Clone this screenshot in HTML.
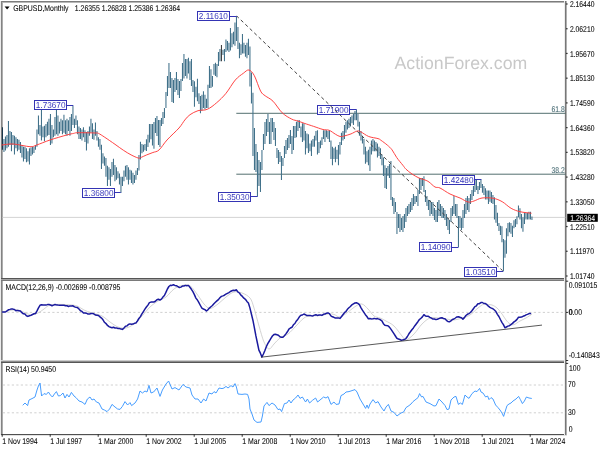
<!DOCTYPE html>
<html><head><meta charset="utf-8"><title>GBPUSD Monthly</title>
<style>html,body{margin:0;padding:0;background:#fff;width:600px;height:450px;overflow:hidden}
svg{display:block} text{font-family:'Liberation Sans', Arial, sans-serif;text-rendering:geometricPrecision}</style></head>
<body><svg width="600" height="450" viewBox="0 0 600 450">
<rect x="0" y="0" width="600" height="450" fill="#fff"/>
<rect x="1" y="1" width="565" height="1" fill="#7c7c7c"/>
<rect x="2" y="2" width="563" height="1" fill="#b8b8b8"/>
<rect x="0" y="1" width="1" height="434" fill="#ececec"/>
<rect x="1" y="1" width="1" height="434" fill="#838383"/>
<rect x="2" y="2" width="1" height="432" fill="#adadad"/>
<rect x="1" y="278" width="565" height="1" fill="#555555"/>
<rect x="1" y="279" width="565" height="1" fill="#a3a3a3"/>
<rect x="1" y="280" width="565" height="1" fill="#7a7a7a"/>
<rect x="1" y="360" width="565" height="1" fill="#cdcdcd"/>
<rect x="1" y="361" width="565" height="1" fill="#8c8c8c"/>
<rect x="1" y="362" width="565" height="1" fill="#565656"/>
<rect x="1" y="434" width="566" height="1" fill="#505050"/>
<rect x="1" y="435" width="566" height="1" fill="#e2e2e2"/>
<rect x="564" y="1" width="1" height="434" fill="#ededed"/>
<rect x="565" y="1" width="1" height="434" fill="#777777"/>
<rect x="566" y="1" width="1" height="434" fill="#b0b0b0"/>
<line x1="2.3" y1="217.4" x2="565.5" y2="217.4" stroke="#c8c8c8" stroke-width="0.8"/>
<line x1="236.3" y1="113.3" x2="565.5" y2="113.3" stroke="#3f5f5f" stroke-width="0.9"/>
<line x1="236.3" y1="174.2" x2="565.5" y2="174.2" stroke="#3f5f5f" stroke-width="0.9"/>
<text transform="translate(564.70,111.60) scale(0.81,1)" font-size="8.4" fill="#466a72" stroke="#466a72" stroke-width="0.07" text-anchor="end" >61.8</text>
<text transform="translate(564.70,172.50) scale(0.81,1)" font-size="8.4" fill="#466a72" stroke="#466a72" stroke-width="0.07" text-anchor="end" >38.2</text>
<path d="M3.95 138.9V152.0M5.45 136.5V150.5M6.95 135.0V148.2M8.45 121.0V146.7M9.95 131.0V145.0M11.45 131.9V151.3M12.95 135.0V145.0M14.45 135.8V154.4M15.95 137.3V148.2M17.45 138.9V151.3M18.95 139.7V149.8M20.45 142.0V152.9M21.95 145.0V157.5M23.45 146.7V161.4M24.95 146.7V159.0M26.45 148.2V162.2M27.95 151.3V161.4M29.45 148.2V164.5M30.95 147.4V156.0M32.45 146.7V154.4M33.95 146.7V152.9M35.45 145.0V149.8M36.95 129.5V146.7M38.45 115.6V134.2M39.95 124.9V135.8M41.45 110.1V140.4M42.95 126.4V137.3M44.45 125.7V141.2M45.95 124.1V137.3M47.45 121.8V135.8M48.95 118.7V135.0M50.45 114.0V145.0M51.95 124.9V143.5M53.45 129.5V137.3M54.95 117.0V135.8M56.45 109.3V134.2M57.95 115.6V135.8M59.45 121.8V133.4M60.95 118.7V131.0M62.45 120.2V134.2M63.95 114.8V132.7M65.45 120.2V134.2M66.95 118.7V135.8M68.45 120.2V131.0M69.95 117.1V135.8M71.45 114.0V131.0M72.95 105.4V124.9M74.45 118.7V128.0M75.95 115.6V124.9M77.45 120.2V134.2M78.95 126.4V138.9M80.45 128.0V138.9M81.95 129.5V140.4M83.45 127.2V137.3M84.95 130.3V142.0M86.45 131.9V150.5M87.95 131.0V143.5M89.45 126.4V135.8M90.95 118.7V132.7M92.45 123.3V138.9M93.95 129.5V139.7M95.45 122.6V135.8M96.95 131.0V140.4M98.45 137.3V146.7M99.95 138.9V149.8M101.45 144.8V168.9M102.95 153.3V163.4M104.45 156.4V165.8M105.95 158.0V176.7M107.45 165.8V186.0M108.95 167.3V179.8M110.45 168.9V186.0M111.95 161.9V176.7M113.45 158.8V175.1M114.95 165.0V181.3M116.45 167.3V179.8M117.95 171.2V178.2M119.45 173.5V184.4M120.95 176.7V193.0M122.45 176.7V186.0M123.95 170.4V181.3M125.45 165.8V176.7M126.95 165.0V179.8M128.45 167.3V184.4M129.95 169.7V179.8M131.45 170.4V182.9M132.95 172.8V184.4M134.45 175.1V182.9M135.95 170.4V179.8M137.45 168.1V175.1M138.95 154.9V170.4M140.45 141.7V159.5M141.95 144.0V153.3M143.45 144.8V151.8M144.95 144.0V150.2M146.45 139.3V151.0M147.95 134.7V147.1M149.45 124.0V142.4M150.95 124.0V139.3M152.45 124.0V145.6M153.95 122.0V148.7M155.45 118.0V133.0M156.95 116.0V136.0M158.45 120.0V145.0M159.95 120.0V147.0M161.45 118.0V126.0M162.95 112.0V124.0M164.45 108.0V118.0M165.95 92.0V108.0M167.45 76.0V96.0M168.95 63.0V88.0M170.45 72.0V88.0M171.95 78.0V102.0M173.45 80.0V103.0M174.95 78.0V92.0M176.45 72.0V90.0M177.95 79.0V95.0M179.45 81.0V98.0M180.95 79.0V91.0M182.45 63.0V81.0M183.95 54.0V78.5M185.45 59.0V76.0M186.95 59.0V78.5M188.45 57.7V73.6M189.95 61.3V80.0M191.45 59.0V86.0M192.95 80.0V92.0M194.45 81.3V106.7M195.95 86.7V97.3M197.45 78.7V101.3M198.95 93.3V104.0M200.45 96.0V113.3M201.95 94.7V110.7M203.45 91.3V108.0M204.95 94.7V109.3M206.45 98.7V108.0M207.95 84.7V108.0M209.45 66.0V88.0M210.95 69.3V88.0M212.45 76.0V86.7M213.95 64.0V74.7M215.45 62.7V76.0M216.95 64.0V77.3M218.45 52.0V66.0M219.95 48.9V61.3M222.95 49.7V55.1M224.45 48.9V61.3M225.95 39.5V52.0M227.45 41.1V50.4M228.95 42.7V52.0M230.45 27.9V50.4M231.95 33.3V47.3M233.45 31.8V44.2M234.95 22.4V45.8M236.45 16.2V41.1M237.95 27.1V48.9M239.45 42.7V58.2M240.95 44.2V55.1M242.45 34.1V53.5M243.95 42.7V53.5M245.45 45.0V56.7M246.95 42.7V58.2M248.45 38.8V55.1M249.95 46.5V86.4M251.45 72.4V103.5M252.95 92.7V156.0M254.45 128.0V170.0M255.95 144.0V172.0M257.45 152.0V196.5M258.95 160.0V186.0M260.45 162.0V192.0M261.95 150.0V170.0M263.45 134.0V150.0M264.95 122.0V144.0M266.45 119.0V136.0M267.95 114.0V132.0M269.45 122.0V144.0M270.95 118.0V144.0M272.45 118.0V132.0M273.95 122.0V140.0M275.45 128.0V146.0M276.95 148.0V158.0M278.45 150.0V164.0M279.95 152.0V162.0M281.45 156.0V180.0M282.95 158.0V166.0M284.45 146.0V158.0M285.95 140.0V154.0M287.45 138.0V150.0M288.95 135.0V148.0M290.45 130.0V144.0M291.95 136.0V154.0M293.45 126.0V150.0M294.95 126.0V138.0M296.45 121.8V137.3M297.95 120.2V131.1M299.45 120.2V128.0M300.95 126.4V137.3M302.45 123.3V142.0M303.95 123.3V140.4M305.45 131.1V154.4M306.95 133.4V148.2M308.45 134.2V152.9M309.95 143.5V151.3M311.45 140.4V156.0M312.95 138.9V146.7M314.45 135.8V146.7M315.95 131.1V140.4M317.45 130.3V154.4M318.95 142.0V152.9M320.45 140.4V148.2M321.95 137.3V145.0M323.45 130.3V138.9M324.95 130.3V142.0M326.45 130.3V137.3M327.95 131.1V138.9M329.45 130.3V142.0M330.95 140.4V159.1M332.45 146.7V165.3M333.95 148.2V159.1M335.45 146.7V162.2M336.95 149.8V159.1M338.45 145.1V165.3M339.95 142.0V154.4M341.45 132.7V145.0M342.95 131.1V140.4M344.45 124.9V138.9M345.95 121.8V132.7M347.45 120.2V129.5M348.95 118.7V128.0M350.45 117.1V126.4M351.95 115.6V123.3M353.45 114.0V124.9M354.95 110.9V120.2M356.45 109.6V120.2M357.95 114.0V126.4M359.45 121.8V135.8M360.95 131.1V140.4M362.45 135.8V143.5M363.95 138.9V154.4M365.45 146.7V163.8M366.95 151.3V162.2M368.45 149.8V165.3M369.95 146.7V171.0M371.45 140.4V154.4M372.95 138.9V151.3M374.45 140.4V151.3M375.95 142.0V151.3M377.45 143.5V157.5M378.95 146.7V156.0M380.45 148.2V159.1M381.95 154.4V165.3M383.45 157.5V176.0M384.95 165.3V188.0M386.45 168.0V189.0M387.95 166.0V176.0M389.45 164.0V178.0M390.95 161.0V200.0M392.45 197.0V206.0M393.95 198.0V214.0M395.45 202.0V212.0M396.95 212.0V234.0M398.45 214.0V228.0M399.95 214.0V232.0M401.45 218.0V230.0M402.95 216.0V232.0M404.45 214.0V228.0M405.95 208.0V222.0M407.45 206.0V216.0M408.95 204.0V214.0M410.45 202.0V212.0M411.95 198.0V210.0M413.45 194.0V206.0M414.95 196.0V204.0M416.45 196.0V202.0M417.95 190.0V206.0M419.45 178.0V194.0M420.95 178.0V190.0M422.45 178.0V186.0M423.95 176.3V192.0M425.45 190.0V202.0M426.95 196.0V206.0M428.45 200.0V210.0M429.95 200.0V216.0M431.45 202.0V214.0M432.95 202.0V216.0M434.45 208.0V220.0M435.95 210.0V222.0M437.45 202.0V222.0M438.95 200.0V216.0M440.45 204.0V216.0M441.95 206.0V218.0M443.45 208.0V218.0M444.95 210.0V220.0M446.45 214.0V226.0M447.95 218.0V230.0M449.45 220.0V234.0M450.95 208.0V222.0M452.45 206.0V216.0M453.95 196.0V214.0M455.45 204.0V216.0M456.95 204.0V218.0M458.45 216.0V247.3M459.95 216.0V228.0M461.45 218.0V230.0M462.95 210.0V228.0M464.45 204.0V218.0M465.95 198.0V214.0M467.45 196.0V210.0M468.95 198.0V212.0M470.45 194.0V204.0M471.95 190.0V200.0M473.45 186.0V196.0M474.95 180.0V192.0M476.45 180.0V190.0M477.95 186.0V194.0M479.45 182.0V190.0M480.95 179.3V188.0M482.45 183.9V192.8M483.95 186.1V195.0M485.45 188.3V199.4M486.95 190.6V199.4M488.45 190.6V203.9M489.95 190.6V201.7M491.45 192.0V203.0M492.95 195.0V203.9M494.45 197.2V219.4M495.95 205.0V222.8M497.45 212.8V226.1M498.95 223.0V231.0M500.45 225.7V235.0M501.95 226.3V242.3M503.45 239.0V271.3M504.95 240.3V257.7M506.45 228.3V253.7M507.95 223.0V236.3M509.45 222.3V232.3M510.95 223.0V233.7M512.45 225.7V237.0M513.95 220.3V228.3M515.45 219.0V227.0M516.95 216.3V224.3M518.45 205.4V217.2M519.95 208.3V219.4M521.45 213.9V228.3M522.95 217.2V231.7M524.45 212.8V223.9M525.95 212.8V219.4M527.45 212.8V219.4M528.95 211.7V219.4M530.45 211.7V219.4M531.95 216.5V219.9" stroke="#41718a" stroke-width="1.05" fill="none"/>
<path d="M2.45 127.2V149.8" stroke="#17364c" stroke-width="1.05" fill="none"/>
<path d="M221.45 45.0V61.3" stroke="#3c3c3c" stroke-width="1.05" fill="none"/>
<path d="M2.00 145.00C3.90 144.83 8.73 143.72 13.40 144.00C18.07 144.28 26.12 146.53 30.00 146.70C33.88 146.87 33.37 146.12 36.70 145.00C40.03 143.88 45.00 141.67 50.00 140.00C55.00 138.33 62.75 136.10 66.70 135.00C70.65 133.90 71.82 133.78 73.70 133.40C75.58 133.02 74.38 132.77 78.00 132.70C81.62 132.63 91.98 132.88 95.40 133.00C98.82 133.12 96.93 132.68 98.50 133.40C100.07 134.12 102.05 135.48 104.80 137.30C107.55 139.12 111.92 142.15 115.00 144.30C118.08 146.45 120.62 148.43 123.30 150.20C125.98 151.97 128.63 153.60 131.10 154.90C133.57 156.20 136.55 157.53 138.10 158.00C139.65 158.47 138.97 158.22 140.40 157.70C141.83 157.18 144.62 155.77 146.70 154.90C148.78 154.03 150.85 153.32 152.90 152.50C154.95 151.68 156.65 152.08 159.00 150.00C161.35 147.92 163.67 143.67 167.00 140.00C170.33 136.33 176.03 131.33 179.00 128.00C181.97 124.67 182.97 122.22 184.80 120.00C186.63 117.78 187.80 116.25 190.00 114.70C192.20 113.15 195.12 111.60 198.00 110.70C200.88 109.80 204.18 110.63 207.30 109.30C210.42 107.97 213.58 105.37 216.70 102.70C219.82 100.03 222.90 97.08 226.00 93.30C229.10 89.52 232.42 83.33 235.30 80.00C238.18 76.67 241.03 74.97 243.30 73.30C245.57 71.63 247.07 69.62 248.90 70.00C250.73 70.38 252.35 72.08 254.30 75.60C256.25 79.12 258.78 87.73 260.60 91.10C262.42 94.47 263.13 94.12 265.20 95.80C267.27 97.48 270.15 98.35 273.00 101.20C275.85 104.05 279.18 109.92 282.30 112.90C285.42 115.88 289.10 117.75 291.70 119.10C294.30 120.45 295.80 120.30 297.90 121.00C300.00 121.70 301.67 122.40 304.30 123.30C306.93 124.20 310.58 125.37 313.70 126.40C316.82 127.43 320.42 128.85 323.00 129.50C325.58 130.15 327.13 129.52 329.20 130.30C331.27 131.08 333.58 133.17 335.40 134.20C337.22 135.23 338.53 136.23 340.10 136.50C341.67 136.77 342.98 136.23 344.80 135.80C346.62 135.37 348.97 134.68 351.00 133.90C353.03 133.12 355.35 131.43 357.00 131.10C358.65 130.77 358.95 131.00 360.90 131.90C362.85 132.80 365.85 135.38 368.70 136.50C371.55 137.62 375.93 137.95 378.00 138.60C380.07 139.25 379.55 139.32 381.10 140.40C382.65 141.48 385.48 143.53 387.30 145.10C389.12 146.67 390.43 147.73 392.00 149.80C393.57 151.87 394.88 154.92 396.70 157.50C398.52 160.08 401.35 163.35 402.90 165.30C404.45 167.25 404.48 167.75 406.00 169.20C407.52 170.65 409.83 172.53 412.00 174.00C414.17 175.47 416.83 177.00 419.00 178.00C421.17 179.00 423.33 179.33 425.00 180.00C426.67 180.67 427.33 180.83 429.00 182.00C430.67 183.17 433.17 186.00 435.00 187.00C436.83 188.00 437.50 186.83 440.00 188.00C442.50 189.17 446.67 192.33 450.00 194.00C453.33 195.67 457.00 196.67 460.00 198.00C463.00 199.33 465.67 201.50 468.00 202.00C470.33 202.50 471.67 201.67 474.00 201.00C476.33 200.33 478.78 198.45 482.00 198.00C485.22 197.55 489.93 197.68 493.30 198.30C496.67 198.92 499.23 200.03 502.20 201.70C505.17 203.37 508.13 206.63 511.10 208.30C514.07 209.97 516.67 210.88 520.00 211.70C523.33 212.52 529.25 212.95 531.10 213.20" fill="none" stroke="#ff3a3a" stroke-width="0.95" stroke-linejoin="round" stroke-linecap="round"/>
<line x1="66" y1="105.5" x2="73.20" y2="105.5" stroke="#3434b4" stroke-width="1"/>
<rect x="34.5" y="100.5" width="32" height="9" fill="#fff" stroke="#3434b4" stroke-width="1"/>
<text transform="translate(35.80,108.20) scale(0.955,1)" font-size="8.6" fill="#3838bc" text-anchor="start" >1.73670</text>
<line x1="114" y1="192.5" x2="120.75" y2="192.5" stroke="#3434b4" stroke-width="1"/>
<rect x="82.5" y="188.5" width="32" height="9" fill="#fff" stroke="#3434b4" stroke-width="1"/>
<text transform="translate(83.80,196.20) scale(0.955,1)" font-size="8.6" fill="#3838bc" text-anchor="start" >1.36800</text>
<line x1="229" y1="16.5" x2="236.80" y2="16.5" stroke="#3434b4" stroke-width="1"/>
<rect x="197.5" y="11.5" width="32" height="9" fill="#fff" stroke="#3434b4" stroke-width="1"/>
<text transform="translate(198.80,19.20) scale(0.955,1)" font-size="8.6" fill="#3838bc" text-anchor="start" >2.11610</text>
<line x1="250" y1="196.5" x2="257.60" y2="196.5" stroke="#3434b4" stroke-width="1"/>
<rect x="218.5" y="192.5" width="32" height="9" fill="#fff" stroke="#3434b4" stroke-width="1"/>
<text transform="translate(219.80,200.20) scale(0.955,1)" font-size="8.6" fill="#3838bc" text-anchor="start" >1.35030</text>
<line x1="349" y1="109.5" x2="356.60" y2="109.5" stroke="#3434b4" stroke-width="1"/>
<rect x="317.5" y="105.5" width="32" height="9" fill="#fff" stroke="#3434b4" stroke-width="1"/>
<text transform="translate(318.80,113.20) scale(0.955,1)" font-size="8.6" fill="#3838bc" text-anchor="start" >1.71900</text>
<line x1="474" y1="179.5" x2="481.30" y2="179.5" stroke="#3434b4" stroke-width="1"/>
<rect x="442.5" y="175.5" width="32" height="9" fill="#fff" stroke="#3434b4" stroke-width="1"/>
<text transform="translate(443.80,183.20) scale(0.955,1)" font-size="8.6" fill="#3838bc" text-anchor="start" >1.42480</text>
<line x1="451" y1="247.5" x2="458.40" y2="247.5" stroke="#3434b4" stroke-width="1"/>
<rect x="419.5" y="242.5" width="32" height="9" fill="#fff" stroke="#3434b4" stroke-width="1"/>
<text transform="translate(420.80,250.20) scale(0.955,1)" font-size="8.6" fill="#3838bc" text-anchor="start" >1.14090</text>
<line x1="496" y1="271.5" x2="503.20" y2="271.5" stroke="#3434b4" stroke-width="1"/>
<rect x="464.5" y="267.5" width="32" height="9" fill="#fff" stroke="#3434b4" stroke-width="1"/>
<text transform="translate(465.80,275.20) scale(0.955,1)" font-size="8.6" fill="#3838bc" text-anchor="start" >1.03510</text>
<line x1="236.8" y1="16.1" x2="502.6" y2="270.7" stroke="#404040" stroke-width="1.0" stroke-dasharray="3.4 2.8" stroke-dashoffset="0.64"/>
<line x1="2.3" y1="312.4" x2="565.5" y2="312.4" stroke="#c0c0c0" stroke-width="0.75" stroke-dasharray="2.2 2.3" stroke-dashoffset="-0.5"/>
<path d="M2.00 312.00C3.33 311.75 7.67 310.90 10.00 310.50C12.33 310.10 14.00 309.45 16.00 309.60C18.00 309.75 20.00 310.67 22.00 311.40C24.00 312.13 26.33 313.47 28.00 314.00C29.67 314.53 30.33 314.77 32.00 314.60C33.67 314.43 36.00 313.93 38.00 313.00C40.00 312.07 42.00 310.33 44.00 309.00C46.00 307.67 47.33 305.77 50.00 305.00C52.67 304.23 56.33 304.40 60.00 304.40C63.67 304.40 69.00 304.67 72.00 305.00C75.00 305.33 76.00 305.57 78.00 306.40C80.00 307.23 81.67 308.90 84.00 310.00C86.33 311.10 89.00 312.00 92.00 313.00C95.00 314.00 99.00 314.50 102.00 316.00C105.00 317.50 107.33 320.17 110.00 322.00C112.67 323.83 115.33 326.00 118.00 327.00C120.67 328.00 123.33 328.50 126.00 328.00C128.67 327.50 131.33 326.00 134.00 324.00C136.67 322.00 139.33 318.83 142.00 316.00C144.67 313.17 147.33 309.50 150.00 307.00C152.67 304.50 155.33 302.67 158.00 301.00C160.67 299.33 163.33 299.00 166.00 297.00C168.67 295.00 171.33 290.92 174.00 289.00C176.67 287.08 179.33 286.03 182.00 285.50C184.67 284.97 187.33 284.13 190.00 285.80C192.67 287.47 195.67 292.47 198.00 295.50C200.33 298.53 202.00 301.83 204.00 304.00C206.00 306.17 207.67 308.50 210.00 308.50C212.33 308.50 215.33 305.92 218.00 304.00C220.67 302.08 223.33 299.00 226.00 297.00C228.67 295.00 231.33 292.67 234.00 292.00C236.67 291.33 239.33 292.00 242.00 293.00C244.67 294.00 248.00 295.50 250.00 298.00C252.00 300.50 252.50 303.33 254.00 308.00C255.50 312.67 257.33 320.33 259.00 326.00C260.67 331.67 262.33 338.17 264.00 342.00C265.67 345.83 267.33 348.67 269.00 349.00C270.67 349.33 272.17 345.83 274.00 344.00C275.83 342.17 277.67 339.67 280.00 338.00C282.33 336.33 285.33 336.00 288.00 334.00C290.67 332.00 293.33 328.67 296.00 326.00C298.67 323.33 301.67 319.67 304.00 318.00C306.33 316.33 307.33 316.40 310.00 316.00C312.67 315.60 317.00 315.93 320.00 315.60C323.00 315.27 325.67 314.20 328.00 314.00C330.33 313.80 332.00 313.90 334.00 314.40C336.00 314.90 337.67 317.40 340.00 317.00C342.33 316.60 345.33 313.83 348.00 312.00C350.67 310.17 353.67 307.33 356.00 306.00C358.33 304.67 360.00 303.50 362.00 304.00C364.00 304.50 366.00 307.00 368.00 309.00C370.00 311.00 372.00 314.50 374.00 316.00C376.00 317.50 378.00 317.17 380.00 318.00C382.00 318.83 383.67 319.67 386.00 321.00C388.33 322.33 391.33 323.50 394.00 326.00C396.67 328.50 400.00 333.67 402.00 336.00C404.00 338.33 404.00 340.33 406.00 340.00C408.00 339.67 411.33 336.67 414.00 334.00C416.67 331.33 419.33 326.67 422.00 324.00C424.67 321.33 427.33 319.00 430.00 318.00C432.67 317.00 435.33 317.83 438.00 318.00C440.67 318.17 443.33 318.67 446.00 319.00C448.67 319.33 451.33 320.17 454.00 320.00C456.67 319.83 459.33 318.83 462.00 318.00C464.67 317.17 467.33 316.67 470.00 315.00C472.67 313.33 475.67 309.83 478.00 308.00C480.33 306.17 482.33 304.58 484.00 304.00C485.67 303.42 486.67 304.33 488.00 304.50C489.33 304.67 490.50 304.42 492.00 305.00C493.50 305.58 495.33 306.50 497.00 308.00C498.67 309.50 500.50 312.00 502.00 314.00C503.50 316.00 504.67 318.33 506.00 320.00C507.33 321.67 508.67 323.23 510.00 324.00C511.33 324.77 512.33 325.10 514.00 324.60C515.67 324.10 518.00 322.10 520.00 321.00C522.00 319.90 524.07 319.10 526.00 318.00C527.93 316.90 530.67 315.00 531.60 314.40" fill="none" stroke="#c4c4c4" stroke-width="0.75" stroke-linejoin="round" stroke-linecap="round"/>
<polyline points="2.5,311.9 4.0,311.9 5.5,312.0 7.0,310.9 8.4,309.8 9.9,309.4 11.4,308.9 12.9,309.1 14.4,309.5 15.9,310.8 17.4,310.4 18.9,310.7 20.4,311.0 21.9,312.7 23.4,313.8 24.9,314.1 26.4,315.7 27.9,316.4 29.4,315.8 30.9,315.4 32.5,314.5 34.0,313.8 35.5,313.6 37.0,310.9 38.5,307.9 40.0,305.3 41.5,304.8 43.0,305.1 44.5,304.9 46.0,305.1 47.5,304.6 49.0,304.5 50.5,305.0 52.0,305.7 53.5,305.1 55.0,304.5 56.5,304.9 58.0,305.1 59.5,305.2 61.0,305.3 62.5,305.2 64.0,305.3 65.5,305.7 67.0,305.8 68.5,306.5 70.0,305.9 71.5,306.0 73.0,305.8 74.5,306.9 76.0,307.3 77.5,307.6 79.0,309.0 80.5,310.7 82.0,311.4 83.5,313.0 85.0,313.1 86.5,313.2 88.0,314.1 89.5,314.1 91.0,313.5 92.5,313.4 94.0,314.0 95.5,315.1 97.0,315.3 98.5,315.5 100.0,316.9 101.5,318.1 103.0,319.8 104.5,322.3 106.0,323.6 107.5,325.4 109.0,326.6 110.5,327.3 112.0,327.8 113.5,327.3 115.0,328.0 116.5,327.9 118.0,328.5 119.5,328.6 121.0,329.0 122.5,329.4 124.0,328.0 125.5,326.3 127.0,325.9 128.4,324.5 129.9,323.9 131.4,324.3 132.9,324.1 134.4,323.3 135.9,323.1 137.4,321.0 138.9,318.5 140.4,316.6 141.9,313.9 143.4,311.6 144.9,309.2 146.4,307.0 147.9,305.1 149.4,302.6 150.9,302.1 152.4,301.9 153.9,302.0 155.4,301.3 156.9,299.8 158.4,299.2 159.9,300.0 161.4,299.1 162.9,297.1 164.4,295.5 165.9,292.4 167.4,289.0 168.9,286.5 170.4,285.2 171.9,285.4 173.4,284.7 174.9,285.4 176.4,285.7 177.9,286.6 179.4,287.5 180.9,287.1 182.4,286.1 183.9,286.0 185.4,285.4 186.9,285.8 188.4,285.4 189.9,287.3 191.4,289.3 192.9,291.7 194.4,294.6 195.9,298.1 197.4,300.0 198.9,302.7 200.4,305.5 201.9,308.2 203.4,309.0 204.9,309.6 206.4,311.0 207.9,309.8 209.4,308.1 210.9,306.8 212.4,305.5 213.9,303.7 215.4,302.3 216.9,300.9 218.4,299.6 219.9,297.7 221.4,296.4 222.9,295.9 224.4,295.2 225.9,294.2 227.4,293.4 228.9,292.6 230.4,291.5 231.9,290.8 233.4,290.2 234.9,290.5 236.4,289.8 237.9,292.0 239.4,293.0 240.9,295.1 242.4,296.4 243.9,298.2 245.4,299.3 246.9,301.4 248.4,303.0 249.9,307.9 251.4,314.0 252.9,320.2 254.4,327.9 255.9,335.9 257.4,343.0 258.9,350.1 260.4,353.2 261.9,357.0 263.4,354.0 264.9,350.5 266.4,346.5 267.9,343.4 269.4,341.0 270.9,338.3 272.4,336.0 273.9,334.6 275.4,334.3 276.9,334.7 278.4,335.2 279.9,336.7 281.4,337.2 282.9,337.3 284.4,335.8 285.9,333.9 287.4,331.8 288.9,329.2 290.4,328.0 291.9,327.3 293.4,324.8 294.9,323.5 296.4,320.9 297.9,319.2 299.4,316.8 300.9,315.3 302.4,315.0 303.9,314.0 305.4,314.7 306.9,315.6 308.4,315.4 309.9,315.4 311.4,315.8 312.9,315.9 314.4,315.1 315.9,314.7 317.4,315.4 318.9,315.1 320.4,314.9 321.9,315.4 323.4,314.3 324.9,314.1 326.4,313.2 327.9,312.9 329.4,313.6 330.9,315.9 332.4,316.8 333.9,317.3 335.4,318.1 336.9,318.0 338.4,317.9 339.9,318.4 341.4,316.7 342.9,314.7 344.4,312.7 345.9,311.5 347.4,309.3 348.9,307.8 350.4,306.5 351.9,304.8 353.4,303.8 354.9,303.0 356.4,302.8 357.9,303.4 359.4,304.6 360.9,307.6 362.4,310.2 363.9,312.4 365.4,314.7 366.9,316.5 368.4,318.8 369.9,318.5 371.4,318.9 372.9,318.7 374.4,318.4 375.9,318.9 377.4,318.6 378.9,319.1 380.4,319.8 381.9,320.9 383.4,323.7 384.9,325.3 386.4,325.6 387.9,325.8 389.4,327.1 390.9,329.1 392.4,331.3 393.9,333.6 395.4,336.0 396.9,338.3 398.4,339.0 399.9,339.5 401.4,340.3 402.9,339.9 404.4,339.6 405.9,338.5 407.4,336.5 408.9,333.8 410.4,331.8 411.9,329.7 413.4,327.9 414.9,325.7 416.4,323.7 417.9,321.7 419.4,319.5 420.9,318.3 422.4,316.9 423.9,314.7 425.4,315.9 426.9,316.2 428.4,316.3 429.9,317.3 431.4,318.2 432.9,319.1 434.4,319.0 435.9,319.6 437.4,319.3 438.9,318.6 440.4,318.0 441.9,317.7 443.4,318.5 444.9,318.7 446.4,320.3 447.9,321.5 449.4,321.8 450.9,320.9 452.4,319.5 453.9,319.0 455.4,318.0 456.9,316.9 458.4,316.7 459.9,317.3 461.4,317.7 462.9,319.1 464.4,317.6 465.9,315.5 467.4,314.3 468.9,313.6 470.4,312.5 471.9,310.8 473.4,308.7 474.9,306.6 476.4,305.8 477.9,303.7 479.4,303.7 480.9,302.6 482.4,302.5 483.9,303.5 485.4,303.6 486.9,304.7 488.4,306.2 489.9,307.3 491.4,308.1 492.9,308.7 494.4,310.0 495.9,311.6 497.4,314.3 498.9,316.5 500.4,319.5 501.9,322.3 503.4,324.6 504.9,327.7 506.4,327.0 507.9,326.1 509.4,325.7 510.9,324.6 512.5,323.4 514.0,321.9 515.5,320.9 517.0,319.4 518.5,317.3 520.0,317.2 521.5,317.1 523.0,316.3 524.5,315.8 526.0,314.9 527.5,314.4 529.0,313.6 530.5,313.4" fill="none" stroke="#1a1a9e" stroke-width="1.5" stroke-linejoin="round" stroke-linecap="round" />
<line x1="261" y1="357.2" x2="542" y2="325.1" stroke="#222" stroke-width="0.75"/>
<line x1="2.3" y1="385" x2="565.5" y2="385" stroke="#c0c0c0" stroke-width="0.75" stroke-dasharray="2.2 2.3" stroke-dashoffset="-0.5"/>
<line x1="2.3" y1="412.8" x2="565.5" y2="412.8" stroke="#c0c0c0" stroke-width="0.75" stroke-dasharray="2.2 2.3" stroke-dashoffset="-0.5"/>
<polyline points="23.0,405.0 25.0,403.0 27.6,405.6 29.0,400.0 32.0,398.6 35.0,397.0 37.0,390.0 38.4,386.0 40.0,383.0 41.6,396.0 44.0,393.6 46.4,394.4 48.4,392.0 50.4,395.0 52.4,397.0 54.4,394.0 56.4,391.6 58.4,396.0 60.4,395.6 63.0,393.0 65.0,398.0 67.0,394.4 69.0,397.0 71.4,392.4 74.0,396.0 76.0,397.6 79.0,401.0 82.0,402.0 85.0,404.4 87.4,399.0 90.0,397.0 92.0,400.0 94.0,399.0 96.4,402.0 99.0,403.0 102.0,409.0 104.4,410.0 107.0,411.6 109.6,409.0 112.0,404.4 115.0,407.0 117.6,409.0 120.0,409.4 122.4,406.4 125.0,401.6 127.6,405.0 130.0,402.6 131.6,405.6 135.0,403.0 137.6,399.0 140.0,391.0 142.4,393.0 145.0,391.0 147.0,392.0 149.0,385.4 151.0,393.0 153.6,392.0 157.0,388.0 160.0,396.4 162.4,390.0 166.0,384.0 168.6,381.0 172.0,389.0 175.0,387.6 179.0,390.0 183.0,384.4 186.0,387.0 190.0,388.0 192.0,395.0 195.0,399.0 198.0,399.0 201.0,403.0 203.6,399.0 206.0,401.0 209.0,393.0 212.0,394.0 214.0,391.6 216.0,393.0 219.0,388.0 222.0,388.6 224.0,388.0 226.0,386.4 228.0,388.0 231.0,385.6 233.0,387.0 235.0,383.6 236.4,387.0 238.0,394.0 242.0,394.4 245.0,394.0 247.6,394.4 249.0,399.0 250.0,409.0 252.0,414.0 254.0,420.0 257.0,422.4 261.0,422.0 262.4,416.0 264.0,406.0 267.0,402.4 269.0,405.6 272.0,403.0 275.0,405.0 278.0,409.6 280.0,409.0 281.6,411.6 284.4,403.6 287.0,403.0 289.0,400.0 291.0,403.0 293.0,400.0 295.6,398.0 298.0,395.0 300.0,398.4 302.4,397.0 305.6,402.0 307.4,399.0 309.6,403.0 312.4,400.4 315.6,398.0 317.6,402.0 320.0,400.0 323.6,397.0 326.0,398.0 328.0,396.6 331.0,404.4 334.0,402.0 336.0,404.4 339.0,404.0 341.0,395.6 344.0,394.0 346.0,392.0 349.0,391.6 352.0,390.6 355.0,389.6 357.0,392.0 360.0,399.0 363.0,404.0 365.6,408.4 367.0,405.0 368.4,408.4 370.0,404.0 373.0,399.6 375.6,403.0 378.0,401.6 381.0,407.0 384.0,411.0 386.0,407.0 388.4,404.4 391.0,411.0 394.0,412.4 397.0,416.0 399.0,414.4 401.0,413.0 403.6,412.0 406.0,407.6 409.0,405.6 411.0,404.0 413.0,401.6 415.0,400.0 418.0,397.6 419.6,393.6 421.6,397.0 423.0,396.4 426.0,402.0 430.0,403.6 434.0,406.0 436.0,405.6 439.0,399.0 442.0,402.0 445.0,405.5 447.0,409.6 449.0,409.0 451.0,400.0 454.0,397.0 456.0,396.4 458.4,404.4 460.4,403.0 462.4,404.4 465.0,395.0 467.0,397.0 469.0,398.4 472.0,393.6 475.0,391.0 477.0,391.6 479.6,388.4 481.0,392.0 483.0,393.0 485.6,397.0 487.6,396.0 489.0,399.6 491.0,397.6 493.0,399.0 495.6,405.0 498.0,407.6 500.0,410.0 502.0,413.0 503.6,416.4 505.0,412.0 507.0,405.6 509.0,404.0 511.0,403.0 513.0,401.0 516.0,399.0 518.6,396.4 520.4,399.6 522.4,403.6 524.4,401.0 526.4,397.0 529.0,398.0 531.4,398.4" fill="none" stroke="#3d98ff" stroke-width="0.95" stroke-linejoin="round" stroke-linecap="round" />
<path d="M4.6 6.6 L9.6 6.6 L7.1 9.6 Z" fill="#000"/>
<text transform="translate(13.20,10.80) scale(0.826,1)" font-size="8.4" fill="#000" stroke="#000" stroke-width="0.07" text-anchor="start" >GBPUSD,Monthly</text>
<text transform="translate(74.80,10.80) scale(0.823,1)" font-size="8.4" fill="#000" stroke="#000" stroke-width="0.07" text-anchor="start" >1.26355 1.26828 1.25386 1.26364</text>
<text transform="translate(5.50,290.00) scale(0.831,1)" font-size="8.4" fill="#000" stroke="#000" stroke-width="0.07" text-anchor="start" >MACD(12,26,9) -0.002699 -0.008795</text>
<text transform="translate(5.40,372.00) scale(0.824,1)" font-size="8.4" fill="#000" stroke="#000" stroke-width="0.07" text-anchor="start" >RSI(14) 50.9450</text>
<text transform="translate(394.50,69.30) scale(1.0,1)" font-size="17.7" fill="#c8c8c8" text-anchor="start" >ActionForex.com</text>
<rect x="566" y="3.40" width="1.6" height="1.2" fill="#333"/>
<text transform="translate(569.90,7.10) scale(0.81,1)" font-size="8.4" fill="#000" stroke="#000" stroke-width="0.07" text-anchor="start" >2.16440</text>
<rect x="566" y="28.13" width="1.6" height="1.2" fill="#333"/>
<text transform="translate(569.90,31.83) scale(0.81,1)" font-size="8.4" fill="#000" stroke="#000" stroke-width="0.07" text-anchor="start" >2.06210</text>
<rect x="566" y="52.85" width="1.6" height="1.2" fill="#333"/>
<text transform="translate(569.90,56.55) scale(0.81,1)" font-size="8.4" fill="#000" stroke="#000" stroke-width="0.07" text-anchor="start" >1.95670</text>
<rect x="566" y="77.58" width="1.6" height="1.2" fill="#333"/>
<text transform="translate(569.90,81.28) scale(0.81,1)" font-size="8.4" fill="#000" stroke="#000" stroke-width="0.07" text-anchor="start" >1.85130</text>
<rect x="566" y="102.31" width="1.6" height="1.2" fill="#333"/>
<text transform="translate(569.90,106.01) scale(0.81,1)" font-size="8.4" fill="#000" stroke="#000" stroke-width="0.07" text-anchor="start" >1.74590</text>
<rect x="566" y="127.04" width="1.6" height="1.2" fill="#333"/>
<text transform="translate(569.90,130.74) scale(0.81,1)" font-size="8.4" fill="#000" stroke="#000" stroke-width="0.07" text-anchor="start" >1.64360</text>
<rect x="566" y="151.76" width="1.6" height="1.2" fill="#333"/>
<text transform="translate(569.90,155.46) scale(0.81,1)" font-size="8.4" fill="#000" stroke="#000" stroke-width="0.07" text-anchor="start" >1.53820</text>
<rect x="566" y="176.49" width="1.6" height="1.2" fill="#333"/>
<text transform="translate(569.90,180.19) scale(0.81,1)" font-size="8.4" fill="#000" stroke="#000" stroke-width="0.07" text-anchor="start" >1.43280</text>
<rect x="566" y="201.22" width="1.6" height="1.2" fill="#333"/>
<text transform="translate(569.90,204.92) scale(0.81,1)" font-size="8.4" fill="#000" stroke="#000" stroke-width="0.07" text-anchor="start" >1.33050</text>
<rect x="566" y="225.94" width="1.6" height="1.2" fill="#333"/>
<text transform="translate(569.90,229.64) scale(0.81,1)" font-size="8.4" fill="#000" stroke="#000" stroke-width="0.07" text-anchor="start" >1.22510</text>
<rect x="566" y="250.67" width="1.6" height="1.2" fill="#333"/>
<text transform="translate(569.90,254.37) scale(0.81,1)" font-size="8.4" fill="#000" stroke="#000" stroke-width="0.07" text-anchor="start" >1.11970</text>
<rect x="566" y="275.40" width="1.6" height="1.2" fill="#333"/>
<text transform="translate(569.90,279.10) scale(0.81,1)" font-size="8.4" fill="#000" stroke="#000" stroke-width="0.07" text-anchor="start" >1.01740</text>
<rect x="567.2" y="213.8" width="30.6" height="8.0" fill="#000"/>
<text transform="translate(570.30,220.70) scale(0.82,1)" font-size="8.4" fill="#fff" stroke="#fff" stroke-width="0.05" text-anchor="start" >1.26364</text>
<line x1="566" y1="281.2" x2="568.2" y2="281.2" stroke="#000" stroke-width="0.8"/>
<text transform="translate(568.80,288.10) scale(0.82,1)" font-size="8.4" fill="#000" stroke="#000" stroke-width="0.07" text-anchor="start" >0.091015</text>
<line x1="566" y1="312.4" x2="568" y2="312.4" stroke="#000" stroke-width="0.8"/>
<text transform="translate(568.60,314.85) scale(0.82,1)" font-size="8.4" fill="#000" stroke="#000" stroke-width="0.07" text-anchor="start" >0.00</text>
<text transform="translate(568.90,314.85) scale(0.82,1)" font-size="8.4" fill="#000" stroke="#000" stroke-width="0.07" text-anchor="start" >0</text>
<line x1="566" y1="360.5" x2="568.2" y2="360.5" stroke="#000" stroke-width="0.8"/>
<text transform="translate(568.80,358.45) scale(0.82,1)" font-size="8.4" fill="#000" stroke="#000" stroke-width="0.07" text-anchor="start" >-0.140843</text>
<line x1="566" y1="363.4" x2="568.2" y2="363.4" stroke="#000" stroke-width="0.8"/>
<text transform="translate(569.00,370.55) scale(0.82,1)" font-size="8.4" fill="#000" stroke="#000" stroke-width="0.07" text-anchor="start" >100</text>
<text transform="translate(568.00,387.35) scale(0.82,1)" font-size="8.4" fill="#000" stroke="#000" stroke-width="0.07" text-anchor="start" >70</text>
<text transform="translate(568.00,415.35) scale(0.82,1)" font-size="8.4" fill="#000" stroke="#000" stroke-width="0.07" text-anchor="start" >30</text>
<text transform="translate(568.80,431.85) scale(0.82,1)" font-size="8.4" fill="#000" stroke="#000" stroke-width="0.07" text-anchor="start" >0</text>
<line x1="2.2" y1="434.5" x2="2.2" y2="436.8" stroke="#000" stroke-width="0.8"/>
<text transform="translate(2.30,444.00) scale(0.825,1)" font-size="8.4" fill="#000" stroke="#000" stroke-width="0.07" text-anchor="start" >1 Nov 1994</text>
<line x1="50.2" y1="434.5" x2="50.2" y2="436.8" stroke="#000" stroke-width="0.8"/>
<text transform="translate(50.30,444.00) scale(0.825,1)" font-size="8.4" fill="#000" stroke="#000" stroke-width="0.07" text-anchor="start" >1 Jul 1997</text>
<line x1="98.2" y1="434.5" x2="98.2" y2="436.8" stroke="#000" stroke-width="0.8"/>
<text transform="translate(98.30,444.00) scale(0.825,1)" font-size="8.4" fill="#000" stroke="#000" stroke-width="0.07" text-anchor="start" >1 Mar 2000</text>
<line x1="146.2" y1="434.5" x2="146.2" y2="436.8" stroke="#000" stroke-width="0.8"/>
<text transform="translate(146.30,444.00) scale(0.825,1)" font-size="8.4" fill="#000" stroke="#000" stroke-width="0.07" text-anchor="start" >1 Nov 2002</text>
<line x1="194.2" y1="434.5" x2="194.2" y2="436.8" stroke="#000" stroke-width="0.8"/>
<text transform="translate(194.30,444.00) scale(0.825,1)" font-size="8.4" fill="#000" stroke="#000" stroke-width="0.07" text-anchor="start" >1 Jul 2005</text>
<line x1="242.2" y1="434.5" x2="242.2" y2="436.8" stroke="#000" stroke-width="0.8"/>
<text transform="translate(242.30,444.00) scale(0.825,1)" font-size="8.4" fill="#000" stroke="#000" stroke-width="0.07" text-anchor="start" >1 Mar 2008</text>
<line x1="290.2" y1="434.5" x2="290.2" y2="436.8" stroke="#000" stroke-width="0.8"/>
<text transform="translate(290.30,444.00) scale(0.825,1)" font-size="8.4" fill="#000" stroke="#000" stroke-width="0.07" text-anchor="start" >1 Nov 2010</text>
<line x1="338.2" y1="434.5" x2="338.2" y2="436.8" stroke="#000" stroke-width="0.8"/>
<text transform="translate(338.30,444.00) scale(0.825,1)" font-size="8.4" fill="#000" stroke="#000" stroke-width="0.07" text-anchor="start" >1 Jul 2013</text>
<line x1="386.2" y1="434.5" x2="386.2" y2="436.8" stroke="#000" stroke-width="0.8"/>
<text transform="translate(386.30,444.00) scale(0.825,1)" font-size="8.4" fill="#000" stroke="#000" stroke-width="0.07" text-anchor="start" >1 Mar 2016</text>
<line x1="434.2" y1="434.5" x2="434.2" y2="436.8" stroke="#000" stroke-width="0.8"/>
<text transform="translate(434.30,444.00) scale(0.825,1)" font-size="8.4" fill="#000" stroke="#000" stroke-width="0.07" text-anchor="start" >1 Nov 2018</text>
<line x1="482.2" y1="434.5" x2="482.2" y2="436.8" stroke="#000" stroke-width="0.8"/>
<text transform="translate(482.30,444.00) scale(0.825,1)" font-size="8.4" fill="#000" stroke="#000" stroke-width="0.07" text-anchor="start" >1 Jul 2021</text>
<line x1="530.2" y1="434.5" x2="530.2" y2="436.8" stroke="#000" stroke-width="0.8"/>
<text transform="translate(530.30,444.00) scale(0.825,1)" font-size="8.4" fill="#000" stroke="#000" stroke-width="0.07" text-anchor="start" >1 Mar 2024</text>
</svg></body></html>
